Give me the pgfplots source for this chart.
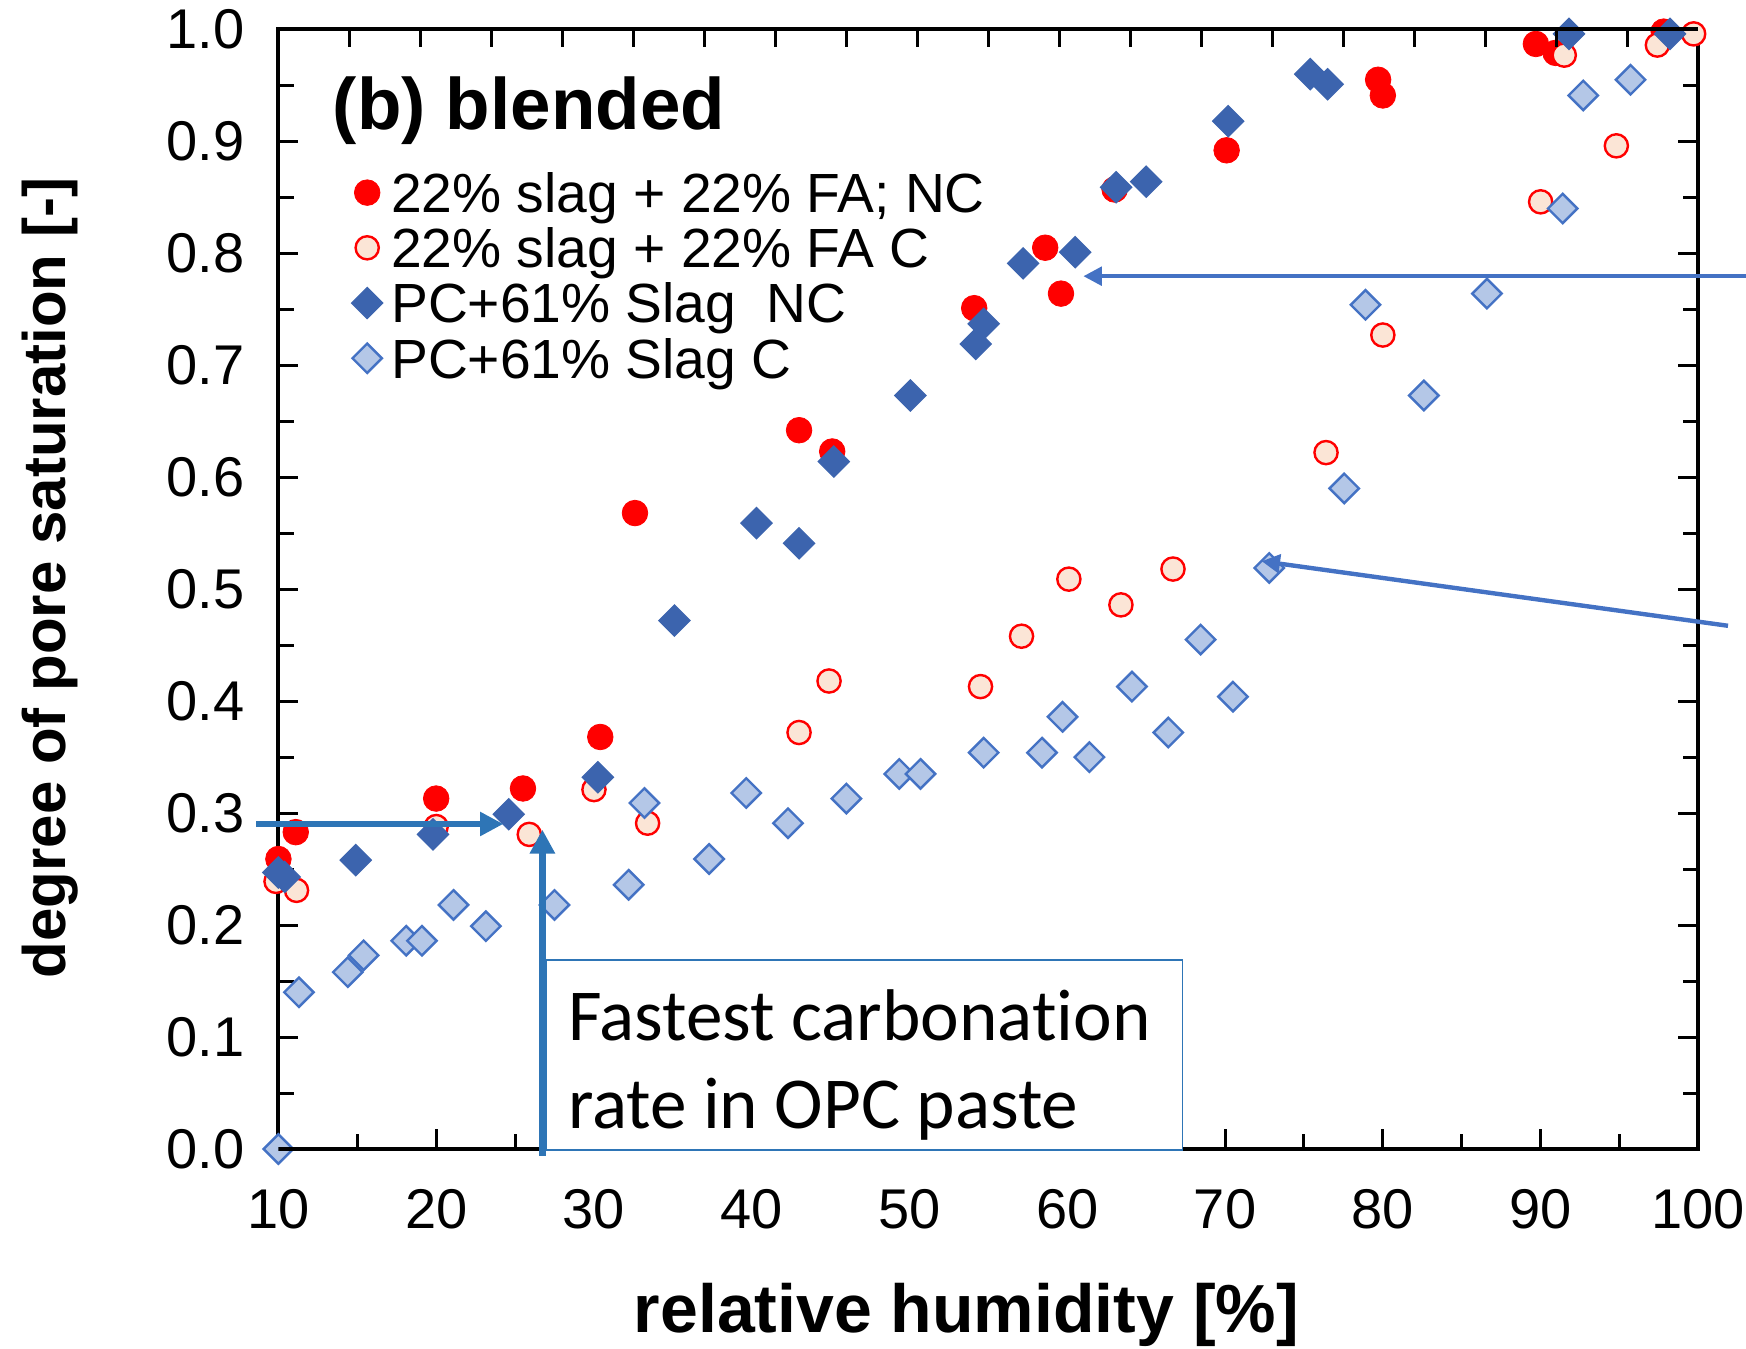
\documentclass[border=0pt]{standalone}
\usepackage{fontspec}
\setmainfont{Liberation Sans}
\newfontfamily\calibri[Ligatures=NoCommon]{Carlito}
\usepackage{pgfplots}
\pgfplotsset{compat=1.18}
\usetikzlibrary{arrows.meta}
\definecolor{redc}{HTML}{FF0000}
\definecolor{peach}{HTML}{FBE5D6}
\definecolor{dblue}{HTML}{3C64AE}
\definecolor{lblue}{HTML}{B4C7E7}
\definecolor{lbluedge}{HTML}{4472C4}
\definecolor{arrA}{HTML}{2E75B6}
\definecolor{arrB}{HTML}{4472C4}
\begin{document}
\begin{tikzpicture}
\path[use as bounding box] (0,0) rectangle (436.5pt,337.25pt);
\begin{axis}[
  at={(69.6pt,50pt)}, anchor=south west, scale only axis,
  width=355pt, height=279.9pt,
  xmin=10, xmax=100, ymin=0, ymax=1, clip=false,
  xtick={10,20,30,40,50,60,70,80,90,100}, minor x tick num=1, xtick pos=left,
  ytick={0,0.1,0.2,0.3,0.4,0.5,0.6,0.7,0.8,0.9,1.0}, minor y tick num=1,
  tick align=inside, major tick length=5pt, minor tick length=3.8pt,
  axis line style={line width=1pt},
  tick style={black, line width=0.75pt},
  /pgf/number format/assume math mode=true,
  tick label style={font=\fontsize{14pt}{14pt}\selectfont, /pgf/number format/assume math mode=true},
  xticklabel style={inner sep=0pt, yshift=-10pt},
  yticklabel style={inner sep=0pt, xshift=-8.3pt, /pgf/number format/fixed, /pgf/number format/fixed zerofill, /pgf/number format/precision=1},
  xlabel={relative humidity [\%]},
  xlabel style={font=\bfseries\fontsize{17pt}{17pt}\selectfont, at={(axis description cs:0.4845,-0.1643)}, anchor=base},
  ylabel={degree of pore saturation [-]},
  ylabel style={font=\bfseries\fontsize{15pt}{15pt}\selectfont, at={(axis description cs:-0.1496,0.51)}, anchor=base},
  legend style={at={(axis description cs:0.0507,0.8735)}, anchor=north west, draw=none, fill=none,
    inner sep=0pt, outer sep=0pt, row sep=0pt, font=\fontsize{13.8pt}{13.8pt}\selectfont,
    nodes={inner sep=0pt, text height=10.35pt, text depth=3.45pt}},
  legend cell align=left,
  legend image code/.code={\path (0pt,0pt) (9.8pt,0pt); \draw[#1] plot coordinates {(4pt,1.5pt)};},
]
\addplot[only marks, mark=*, mark size=3.2pt, mark options={fill=redc, draw=redc, line width=0.2pt}] coordinates {
(10.0,0.259) (11.1,0.283) (20.0,0.313) (25.5,0.322) (30.4,0.368) (32.6,0.568)
(43.0,0.642) (45.1,0.623) (54.1,0.751) (58.6,0.805) (59.6,0.764) (63.0,0.857)
(70.1,0.892) (79.7,0.955) (80.0,0.941) (89.7,0.987) (90.95,0.979) (97.8,0.998)
};
\addlegendentry{22\% slag + 22\% FA; NC}
\addplot[only marks, mark=*, mark size=2.9pt, mark options={fill=peach, draw=redc, line width=0.6pt}] coordinates {
(9.85,0.239) (11.15,0.231) (20.0,0.288) (25.9,0.281) (30.0,0.321) (33.4,0.291)
(43.0,0.372) (44.9,0.418) (54.5,0.413) (57.1,0.458) (60.1,0.509) (63.4,0.486)
(66.7,0.518) (76.4,0.622) (80.0,0.727) (90.0,0.846) (94.8,0.896) (91.5,0.977)
(97.4,0.986) (99.7,0.996)
};
\addlegendentry{22\% slag + 22\% FA C}
\addplot[only marks, mark=square*, mark size=2.76pt, mark options={rotate=45, fill=dblue, draw=dblue, line width=0.3pt}] coordinates {
(10.0,0.247) (10.4,0.243) (14.9,0.258) (19.8,0.281) (24.6,0.299) (30.25,0.332)
(35.1,0.472) (40.3,0.559) (43.0,0.541) (45.2,0.614) (50.05,0.673) (54.2,0.719)
(54.7,0.737) (57.2,0.791) (60.5,0.801) (63.1,0.859) (65.0,0.864) (70.2,0.918)
(75.4,0.960) (76.5,0.951) (91.8,0.996) (98.2,0.996)
};
\addlegendentry{PC+61\% Slag\ \ NC}
\addplot[only marks, mark=square*, mark size=2.6pt, mark options={rotate=45, fill=lblue, draw=lbluedge, line width=0.6pt}] coordinates {
(10.0,0.0) (11.3,0.140) (14.4,0.158) (15.4,0.173) (18.1,0.186) (19.1,0.186)
(21.1,0.218) (23.15,0.199) (27.5,0.218) (32.2,0.236) (33.2,0.309) (37.3,0.259)
(39.65,0.318) (42.3,0.291) (46.0,0.313) (49.35,0.335) (50.7,0.335) (54.7,0.354)
(58.4,0.354) (59.7,0.386) (61.4,0.350) (64.1,0.413) (66.4,0.372) (68.45,0.455)
(70.5,0.404) (72.8,0.519) (77.55,0.590) (78.9,0.754) (82.6,0.673) (86.6,0.764)
(91.4,0.840) (92.7,0.941) (95.7,0.955)
};
\addlegendentry{PC+61\% Slag C}
\end{axis}
\begin{axis}[
  at={(69.6pt,50pt)}, anchor=south west, scale only axis,
  width=355pt, height=279.9pt,
  xmin=10, xmax=100, ymin=0, ymax=1,
  hide y axis, xtick pos=right,
  xtick={14.5,19,23.5,28,32.5,37,41.5,46,50.5,55,59.5,64,68.5,73,77.5,82,86.5,91,95.5},
  xticklabels={}, tick align=inside, major tick length=4.4pt,
  tick style={black, line width=0.75pt}, axis line style={line width=1pt},
]
\end{axis}
\node[anchor=base west, inner sep=0pt, font=\bfseries\fontsize{18.2pt}{18.2pt}\selectfont] at (83pt,304.75pt) {(b) blended};
\draw[arrA, line width=1.3pt, -{Triangle[length=5.8pt,width=5.8pt]}] (64pt,131.25pt) -- (125.8pt,131.25pt);
\draw[arrA, fill=white, line width=0.45pt] (136.4pt,49.7pt) rectangle (295.6pt,97.3pt);
\node[anchor=base west, inner sep=0pt, font=\calibri\fontsize{18.3pt}{21.4pt}\selectfont] at (141.8pt,77pt) {Fastest carbonation};
\node[anchor=base west, inner sep=0pt, font=\calibri\fontsize{18.3pt}{21.4pt}\selectfont] at (141.8pt,55pt) {rate in OPC paste};
\draw[arrA, line width=1.6pt, -{Triangle[length=6pt,width=6pt]}] (135.6pt,48.3pt) -- (135.6pt,129.85pt);
\draw[arrB, line width=1pt, -{Triangle[length=4.6pt,width=4.6pt]}] (436.5pt,268.2pt) -- (270.85pt,268.2pt);
\draw[arrB, line width=1.1pt, -{Triangle[length=4.6pt,width=4.6pt]}] (432pt,180.8pt) -- (315.4pt,196.95pt);
\end{tikzpicture}
\end{document}
